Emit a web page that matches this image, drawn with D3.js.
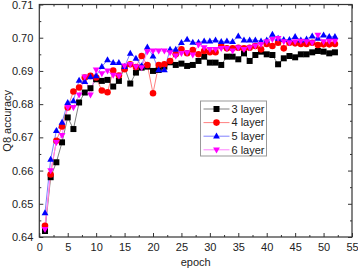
<!DOCTYPE html>
<html>
<head>
<meta charset="utf-8">
<script src="https://cdn.jsdelivr.net/npm/d3@7"></script>
<style>
  body { margin: 0; background: #fff; }
  svg { display: block; font-family: "Liberation Sans", Arial, sans-serif; }
</style>
</head>
<body>
<div id="chart"></div>
<script>
const epochs = d3.range(1, 53);

const layer3 = [0.6418, 0.6580, 0.6625, 0.6685, 0.6760, 0.6725, 0.6805, 0.6835, 0.6848, 0.6875,
  0.6870, 0.6873, 0.6853, 0.6870, 0.6910, 0.6862, 0.6895, 0.6910, 0.6913, 0.6900,
  0.6903, 0.6913, 0.6926, 0.6918, 0.6922, 0.6915, 0.6918, 0.6930, 0.6943, 0.6925,
  0.6925, 0.6918, 0.6943, 0.6943, 0.6935, 0.6953, 0.6930, 0.6948, 0.6958, 0.6950,
  0.6948, 0.6920, 0.6938, 0.6945, 0.6941, 0.6950, 0.6950, 0.6956, 0.6960, 0.6958,
  0.6953, 0.6956];
const layer4 = [0.6434, 0.6588, 0.6690, 0.6733, 0.6790, 0.6838, 0.6850, 0.6880, 0.6885, 0.6880,
  0.6841, 0.6836, 0.6901, 0.6886, 0.6905, 0.6920, 0.6912, 0.6945, 0.6918, 0.6833,
  0.6918, 0.6920, 0.6930, 0.6950, 0.6965, 0.6953, 0.6963, 0.6950, 0.6960, 0.6956,
  0.6956, 0.6975, 0.6968, 0.6968, 0.6970, 0.6968, 0.6970, 0.6975, 0.6965, 0.6981,
  0.6975, 0.6985, 0.6968, 0.6985, 0.6983, 0.6981, 0.6981, 0.6985, 0.6978, 0.6980,
  0.6980, 0.6981];
const layer5 = [0.6473, 0.6634, 0.6720, 0.6745, 0.6805, 0.6810, 0.6872, 0.6868, 0.6882, 0.6885,
  0.6913, 0.6933, 0.6925, 0.6925, 0.6913, 0.6953, 0.6938, 0.6915, 0.6972, 0.6945,
  0.6903, 0.6903, 0.6965, 0.6965, 0.6985, 0.6995, 0.6986, 0.6986, 0.6990, 0.6990,
  0.6993, 0.6988, 0.6990, 0.6988, 0.7005, 0.6993, 0.6993, 0.6993, 0.6990, 0.6993,
  0.7010, 0.6998, 0.6994, 0.6994, 0.7003, 0.6993, 0.6996, 0.7005, 0.6998, 0.7008,
  0.7003, 0.7003];
const layer6 = [0.6423, 0.6600, 0.6685, 0.6706, 0.6790, 0.6790, 0.6828, 0.6882, 0.6828, 0.6903,
  0.6892, 0.6900, 0.6887, 0.6885, 0.6915, 0.6920, 0.6913, 0.6910, 0.6958, 0.6960,
  0.6960, 0.6960, 0.6955, 0.6945, 0.6953, 0.6955, 0.6948, 0.6978, 0.6970, 0.6965,
  0.6965, 0.6968, 0.6968, 0.6960, 0.6970, 0.6965, 0.6970, 0.6975, 0.6980, 0.6988,
  0.6995, 0.6998, 0.6988, 0.6985, 0.6988, 0.6990, 0.6988, 0.6985, 0.7008, 0.6988,
  0.6990, 0.6990];

const seriesNames = ["3 layer", "4 layer", "5 layer", "6 layer"];
const xTicks = [0, 5, 10, 15, 20, 25, 30, 35, 40, 45, 50, 55];
const yTicks = [0.64, 0.65, 0.66, 0.67, 0.68, 0.69, 0.70, 0.71];

const series = [
  { name: seriesNames[0], values: layer3, marker: "square", fill: "#000000", line: "#808080" },
  { name: seriesNames[1], values: layer4, marker: "circle", fill: "#ff0000", line: "#ff8080" },
  { name: seriesNames[2], values: layer5, marker: "triangle", fill: "#0000ff", line: "#8080ff" },
  { name: seriesNames[3], values: layer6, marker: "down", fill: "#ff00ff", line: "#ff80ff" }
];

const W = 358, H = 270;
const margin = { top: 4.5, right: 6, bottom: 33, left: 39.3 };
const width = W - margin.left - margin.right;
const height = H - margin.top - margin.bottom;

const svg = d3.select("#chart").append("svg")
  .attr("width", W)
  .attr("height", H);

const g = svg.append("g")
  .attr("transform", `translate(${margin.left}, ${margin.top})`);

const x = d3.scaleLinear().domain([0, 55]).range([0, width]);
const y = d3.scaleLinear().domain([0.64, 0.71]).range([height, 0]);

// minor tick positions
const xMinor = d3.range(2.5, 55, 5);
const yMinor = d3.range(0, 7).map(i => 0.645 + i * 0.01);

function styleAxis(sel) {
  sel.select(".domain").remove();
  sel.selectAll("line").attr("stroke", "#333").attr("stroke-width", 1);
  sel.selectAll("text").attr("fill", "#222").style("font-size", "11px");
}

// bottom
g.append("g").attr("transform", `translate(0, ${height})`)
  .call(d3.axisBottom(x).tickValues(xTicks).tickSizeInner(-4).tickSizeOuter(0).tickPadding(6).tickFormat(d3.format("d")))
  .call(styleAxis);
g.append("g").attr("transform", `translate(0, ${height})`)
  .call(d3.axisBottom(x).tickValues(xMinor).tickSize(-2).tickFormat(""))
  .call(styleAxis);
// top
g.append("g")
  .call(d3.axisTop(x).tickValues(xTicks).tickSize(-4).tickFormat(""))
  .call(styleAxis);
g.append("g")
  .call(d3.axisTop(x).tickValues(xMinor).tickSize(-2).tickFormat(""))
  .call(styleAxis);
// left
g.append("g")
  .call(d3.axisLeft(y).tickValues(yTicks).tickSizeInner(-4).tickSizeOuter(0).tickPadding(6).tickFormat(d3.format(".2f")))
  .call(styleAxis);
g.append("g")
  .call(d3.axisLeft(y).tickValues(yMinor).tickSize(-2).tickFormat(""))
  .call(styleAxis);
// right
g.append("g").attr("transform", `translate(${width}, 0)`)
  .call(d3.axisRight(y).tickValues(yTicks).tickSize(-4).tickFormat(""))
  .call(styleAxis);
g.append("g").attr("transform", `translate(${width}, 0)`)
  .call(d3.axisRight(y).tickValues(yMinor).tickSize(-2).tickFormat(""))
  .call(styleAxis);

// frame
g.append("rect")
  .attr("width", width)
  .attr("height", height)
  .attr("fill", "none")
  .attr("stroke", "#333")
  .attr("stroke-width", 1.2);

function markerPath(type) {
  if (type === "square") return "M-3,-3H3V3H-3Z";
  if (type === "circle") return d3.symbol(d3.symbolCircle, 34)();
  if (type === "triangle") return "M0,-3.6L3.4,2.4H-3.4Z";
  return "M0,3.6L3.4,-2.4H-3.4Z";
}

const line = d3.line()
  .x((d, i) => x(epochs[i]))
  .y(d => y(d));

series.forEach(s => {
  g.append("path")
    .datum(s.values)
    .attr("fill", "none")
    .attr("stroke", s.line)
    .attr("stroke-width", 1)
    .attr("d", line);
});

series.forEach(s => {
  g.selectAll(null)
    .data(s.values)
    .enter()
    .append("path")
    .attr("transform", (d, i) => `translate(${x(epochs[i])}, ${y(d)})`)
    .attr("d", markerPath(s.marker))
    .attr("fill", s.fill);
});

// axis titles
svg.append("text")
  .attr("x", margin.left + width / 2)
  .attr("y", 266)
  .attr("text-anchor", "middle")
  .style("font-size", "11px")
  .attr("fill", "#222")
  .text("epoch");

svg.append("text")
  .attr("transform", "rotate(-90)")
  .attr("x", -(margin.top + height / 2))
  .attr("y", 11)
  .attr("text-anchor", "middle")
  .style("font-size", "11px")
  .attr("fill", "#222")
  .text("Q8 accuracy");

// legend
const legend = svg.append("g").attr("transform", "translate(200.5, 101)");
legend.append("rect")
  .attr("width", 66)
  .attr("height", 55)
  .attr("fill", "#fff")
  .attr("stroke", "#999")
  .attr("stroke-width", 1);

series.forEach((s, i) => {
  const ly = 8 + i * 13.6;
  legend.append("line")
    .attr("x1", 3).attr("x2", 29)
    .attr("y1", ly).attr("y2", ly)
    .attr("stroke", s.line)
    .attr("stroke-width", 1);
  legend.append("path")
    .attr("transform", `translate(16, ${ly})`)
    .attr("d", markerPath(s.marker))
    .attr("fill", s.fill);
  legend.append("text")
    .attr("x", 31)
    .attr("y", ly)
    .attr("dy", "0.35em")
    .style("font-size", "11px")
    .attr("fill", "#222")
    .text(s.name);
});
</script>
</body>
</html>
